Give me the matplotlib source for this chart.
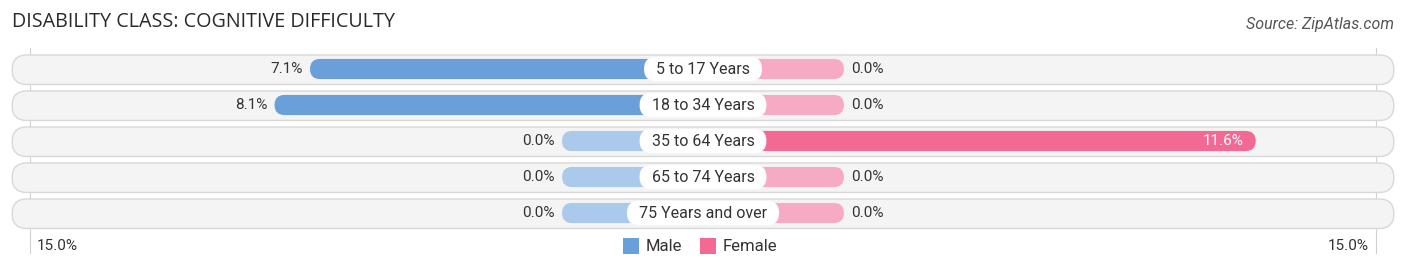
import matplotlib
matplotlib.use('Agg')
import matplotlib.pyplot as plt
from matplotlib.patches import FancyBboxPatch, Rectangle

# data
categories = ['5 to 17 Years', '18 to 34 Years', '35 to 64 Years', '65 to 74 Years', '75 Years and over']
male = [7.1, 8.1, 0.0, 0.0, 0.0]
female = [0.0, 0.0, 11.6, 0.0, 0.0]
axis_max = 15.0

title = 'DISABILITY CLASS: COGNITIVE DIFFICULTY'
source = 'Source: ZipAtlas.com'

# colours
male_c = '#6aa0da'
male_light = '#abc9eb'
female_c = '#f26a94'
female_light = '#f6aac3'
bg_c = '#f4f4f4'
bg_edge = '#d8d8d8'
text_c = '#333333'

plt.rcParams['font.family'] = ['Roboto', 'DejaVu Sans']

W, H = 1406, 270
fig = plt.figure(figsize=(W / 100, H / 100), dpi=100)
ax = fig.add_axes([0, 0, 1, 1])
ax.axis('off')

# scale: percent units on x, row units on y
px_x = 35.5   # pixels per percent
px_y = 36.0   # pixels per row
offset = 3.97  # room for the centre label (percent units)
ax.set_xlim(-W / 2 / px_x, W / 2 / px_x)
ax.set_ylim((H - 69) / px_y, -69 / px_y)
asp = px_x / px_y


def pill(x0, x1, y, h, fc, ec='none', lw=0, z=2):
    r = h * px_y / 2 / px_x
    p = FancyBboxPatch((x0, y - h / 2), x1 - x0, h,
                       boxstyle=f'round,pad=0,rounding_size={r * 0.999}',
                       mutation_aspect=asp, fc=fc, ec=ec, lw=lw, zorder=z)
    ax.add_patch(p)


fig.canvas.draw()
renderer = fig.canvas.get_renderer()

bg_half = 19.46
for i, cat in enumerate(categories):
    # background track
    pill(-bg_half, bg_half, i + 0.02, 0.82, bg_c, bg_edge, 1.0, 1)
    m = male[i]
    f = female[i]
    pill(-(offset + m), 0, i, 0.56, male_c if m > 0 else male_light)
    pill(0, offset + f, i, 0.56, female_c if f > 0 else female_light)
    # male value
    ax.text(-(offset + m) - 0.2, i, f'{m:.1f}%', ha='right', va='center',
            fontsize=11, color=text_c, zorder=4)
    # female value
    if f > 3:
        ax.text(offset + f - 0.33, i, f'{f:.1f}%', ha='right', va='center',
                fontsize=11, color='white', zorder=4)
    else:
        ax.text(offset + f + 0.2, i, f'{f:.1f}%', ha='left', va='center',
                fontsize=11, color=text_c, zorder=4)
    t = ax.text(0, i, cat, ha='center', va='center', fontsize=11.5, color=text_c, zorder=5)
    tw = t.get_window_extent(renderer).width / px_x
    half = tw / 2 + 12 / px_x
    pill(-half, half, i, 24 / px_y, 'white', z=3)

# axis lines at 15%
edge = offset + axis_max
for s in (-1, 1):
    ax.plot([s * edge, s * edge], [-0.58, 5.12], color='#d0d0d0', lw=0.8, zorder=0)
ax.text(-edge + 0.2, 4.92, f'{axis_max:.1f}%', ha='left', va='center', fontsize=11, color=text_c)
ax.text(edge - 0.22, 4.92, f'{axis_max:.1f}%', ha='right', va='center', fontsize=11, color=text_c)

# legend
sq = 16 / px_x
ax.add_patch(Rectangle((-80 / px_x, 4.92 - 8 / px_y), sq, 16 / px_y, fc=male_c, ec='none'))
ax.text(-57 / px_x, 4.92, 'Male', ha='left', va='center', fontsize=12, color=text_c)
ax.add_patch(Rectangle((-3 / px_x, 4.92 - 8 / px_y), sq, 16 / px_y, fc=female_c, ec='none'))
ax.text(20 / px_x, 4.92, 'Female', ha='left', va='center', fontsize=12, color=text_c)

fig.text(12 / W, 1 - 22 / H, title, ha='left', va='center', fontsize=14.2, color='#2a2a2a',
         family=['Open Sans', 'DejaVu Sans'])
fig.text(1394 / W, 1 - 25 / H, source, ha='right', va='center', fontsize=11.5,
         style='italic', color='#555555')

fig.savefig('out.png', dpi=100)
